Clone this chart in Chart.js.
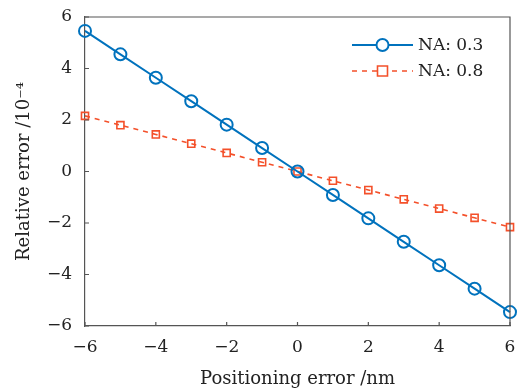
<!DOCTYPE html>
<html>
<head>
<meta charset="utf-8">
<script src="https://cdn.jsdelivr.net/npm/chart.js@4/dist/chart.umd.min.js"></script>
<style>
  html, body { margin: 0; padding: 0; background: #fff; }
  #wrap { width: 521px; height: 390px; }
</style>
</head>
<body>
<div id="wrap"><canvas id="errChart" width="521" height="390"></canvas></div>
<script>
var positions = [-6, -5, -4, -3, -2, -1, 0, 1, 2, 3, 4, 5, 6];
var na03 = [5.46, 4.55, 3.64, 2.73, 1.82, 0.91, 0, -0.91, -1.82, -2.73, -3.64, -4.55, -5.46];
var na08 = [2.16, 1.80, 1.44, 1.08, 0.72, 0.36, 0, -0.36, -0.72, -1.08, -1.44, -1.80, -2.16];
var seriesNames = ["NA: 0.3", "NA: 0.8"];
var xTicks = [-6, -4, -2, 0, 2, 4, 6];
var yTicks = [-6, -4, -2, 0, 2, 4, 6];

var serif = "'DejaVu Serif', 'Liberation Serif', serif";
var axisColor = '#555';

function minus(v) {
    return v < 0 ? '\u2212' + Math.abs(v) : String(v);
}

function toPoints(xs, ys) {
    return xs.map(function(x, i) { return {x: x, y: ys[i]}; });
}

// frame, inward ticks and the legend inside the plot
var framePlugin = {
    id: 'frame',
    afterDraw: function(chart) {
        var ctx = chart.ctx, a = chart.chartArea;
        var xs = chart.scales.x, ys = chart.scales.y;
        ctx.save();
        ctx.strokeStyle = axisColor;
        ctx.lineWidth = 1.2;
        ctx.beginPath();
        ctx.moveTo(a.left, a.top);
        ctx.lineTo(a.right, a.top);
        ctx.lineTo(a.right, a.bottom);
        ctx.stroke();
        ctx.beginPath();
        xTicks.forEach(function(t) {
            var px = xs.getPixelForValue(t);
            ctx.moveTo(px, a.bottom);
            ctx.lineTo(px, a.bottom - 4);
        });
        yTicks.forEach(function(t) {
            var py = ys.getPixelForValue(t);
            ctx.moveTo(a.left, py);
            ctx.lineTo(a.left + 4, py);
        });
        ctx.stroke();

        // legend
        var lx0 = a.right - 158, lx1 = a.right - 97;
        var rows = [a.top + 28, a.top + 54];
        chart.data.datasets.forEach(function(ds, i) {
            var y = rows[i];
            var mx = (lx0 + lx1) / 2;
            ctx.strokeStyle = ds.borderColor;
            ctx.lineWidth = ds.borderWidth;
            ctx.setLineDash(ds.borderDash || []);
            ctx.beginPath();
            ctx.moveTo(lx0, y);
            ctx.lineTo(lx1, y);
            ctx.stroke();
            ctx.setLineDash([]);
            ctx.fillStyle = '#fff';
            ctx.lineWidth = ds.pointBorderWidth;
            ctx.beginPath();
            if (ds.pointStyle === 'rect') {
                ctx.rect(mx - 5, y - 5, 10, 10);
            } else {
                ctx.arc(mx, y, 6, 0, Math.PI * 2);
            }
            ctx.fill();
            ctx.stroke();
            ctx.fillStyle = '#222';
            ctx.font = "17px " + serif;
            ctx.textBaseline = 'middle';
            ctx.textAlign = 'left';
            ctx.fillText(ds.label, lx1 + 5, y + 1);
        });
        ctx.restore();
    }
};

var chart = new Chart(document.getElementById('errChart'), {
    type: 'line',
    data: {
        datasets: [{
            label: seriesNames[0],
            data: toPoints(positions, na03),
            borderColor: '#0072BD',
            backgroundColor: 'rgba(255,255,255,0)',
            borderWidth: 2,
            pointStyle: 'circle',
            pointRadius: 6,
            pointBorderWidth: 2,
            pointBackgroundColor: 'rgba(255,255,255,0)',
            pointBorderColor: '#0072BD',
            order: 1
        }, {
            label: seriesNames[1],
            data: toPoints(positions, na08),
            borderColor: '#F4502A',
            backgroundColor: 'rgba(255,255,255,0)',
            borderWidth: 1.6,
            borderDash: [5, 5],
            pointStyle: 'rect',
            pointRadius: 5,
            pointBorderWidth: 1.6,
            pointBackgroundColor: 'rgba(255,255,255,0)',
            pointBorderColor: '#F4502A',
            order: 2
        }]
    },
    options: {
        responsive: false,
        animation: false,
        clip: false,
        layout: { padding: { top: 17, right: 11, left: 14, bottom: 0 } },
        plugins: {
            legend: { display: false },
            tooltip: { enabled: false }
        },
        scales: {
            x: {
                type: 'linear',
                min: -6,
                max: 6,
                afterBuildTicks: function(s) { s.ticks = xTicks.map(function(v) { return {value: v}; }); },
                afterFit: function(s) {
                    s.height = 64;
                    s.paddingLeft = 0;
                    s.paddingRight = 0;
                },
                grid: { display: false, drawTicks: false },
                border: { color: axisColor, width: 1.2 },
                ticks: {
                    color: '#222',
                    padding: 11,
                    font: { family: serif, size: 17 },
                    callback: function(v) { return minus(v); }
                },
                title: {
                    display: true,
                    text: 'Positioning error /nm',
                    color: '#222',
                    font: { family: serif, size: 18 },
                    padding: { top: 4, bottom: 0 }
                }
            },
            y: {
                type: 'linear',
                min: -6,
                max: 6,
                afterBuildTicks: function(s) { s.ticks = yTicks.map(function(v) { return {value: v}; }); },
                afterFit: function(s) {
                    s.width = 71;
                    s.paddingTop = 0;
                    s.paddingBottom = 0;
                },
                grid: { display: false, drawTicks: false },
                border: { color: axisColor, width: 1.2 },
                ticks: {
                    color: '#222',
                    padding: 13,
                    font: { family: serif, size: 17 },
                    callback: function(v) { return minus(v); }
                },
                title: {
                    display: true,
                    text: 'Relative error /10\u207B\u2074',
                    color: '#222',
                    font: { family: serif, size: 18 },
                    padding: { top: 0, bottom: 4 }
                }
            }
        }
    },
    plugins: [framePlugin]
});
</script>
</body>
</html>
